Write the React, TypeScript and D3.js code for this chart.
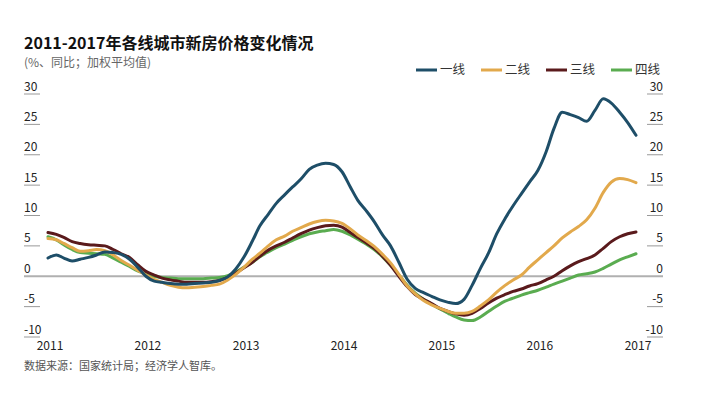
import { useEffect, useRef } from "react";
import { axisLeft, axisRight, curveMonotoneX, line, scaleLinear, scaleTime, select } from "d3";

const years = [2011, 2012, 2013, 2014, 2015, 2016, 2017];
const yTicks = [-10, -5, 0, 5, 10, 15, 20, 25, 30];

// monthly, Jan 2011 .. Jan 2017
const tier1 = [
  3.0, 3.5, 3.0, 2.5, 2.8, 3.1, 3.5, 4.0, 3.9, 3.6, 2.8, 1.5,
  0.0, -0.8, -1.0, -1.2, -1.3, -1.3, -1.2, -1.1, -1.0, -0.7, -0.1, 1.2,
  3.2, 5.8, 8.3, 10.2, 12.0, 13.4, 14.7, 16.0, 17.6, 18.3, 18.6, 18.4,
  17.2, 14.7, 12.5, 10.8, 9.0, 6.8, 5.0, 2.3, -0.5, -2.0, -2.7, -3.3,
  -3.9, -4.3, -4.5, -3.8, -1.5, 1.3, 3.8, 7.0, 9.5, 11.6, 13.6, 15.5,
  17.4, 20.5, 24.3, 27.0, 26.6, 26.1, 25.5, 27.3, 29.2, 28.5, 27.0, 25.3,
  23.2,
];
const tier2 = [
  6.2, 6.0, 5.4, 4.7, 4.1, 4.2, 4.4, 4.2, 3.5, 2.6, 1.8, 1.0,
  0.2, -0.5, -1.0, -1.5, -1.8, -1.9, -1.8, -1.7, -1.5, -1.3, -0.6, 0.3,
  1.5, 2.8, 3.8, 5.0, 6.0, 6.6, 7.4, 8.0, 8.6, 9.0, 9.2, 9.1,
  8.7, 7.8, 6.8, 5.9, 4.9, 3.6, 2.2, 0.3, -1.6, -2.9, -4.0, -4.7,
  -5.3, -5.8, -6.1, -6.1, -5.8, -4.9, -3.9, -2.6, -1.5, -0.6, 0.2, 1.5,
  2.7, 3.9, 5.0, 6.3, 7.3, 8.2, 9.3, 11.2, 13.8, 15.5, 16.1, 15.9,
  15.4,
];
const tier3 = [
  7.2, 6.9, 6.4, 5.7, 5.4, 5.2, 5.1, 5.0, 4.4, 3.7, 3.1, 1.9,
  0.8, 0.2, -0.3, -0.6, -0.8, -1.0, -1.0, -1.0, -0.9, -0.7, -0.2, 0.5,
  1.4, 2.3, 3.3, 4.3, 5.0, 5.6, 6.3, 7.0, 7.6, 8.0, 8.3, 8.4,
  8.1, 7.2, 6.4, 5.5, 4.6, 3.3, 1.8, 0.0, -1.7, -3.0, -3.8, -4.5,
  -5.3, -5.8, -6.2, -6.4, -6.1, -5.3, -4.4, -3.6, -3.0, -2.5, -2.1, -1.6,
  -1.2, -0.6, 0.0, 0.9, 1.7, 2.4, 2.9, 3.5, 4.6, 5.7, 6.5, 7.0,
  7.3,
];
const tier4 = [
  6.5, 6.0, 5.2, 4.4, 3.9, 3.8, 3.7, 3.6, 3.0, 2.3, 1.6, 0.9,
  0.4, 0.0, -0.2, -0.3, -0.4, -0.4, -0.4, -0.4, -0.3, -0.2, 0.1, 0.7,
  1.5, 2.3, 3.2, 4.0, 4.7, 5.3, 5.9, 6.5, 7.0, 7.3, 7.5, 7.7,
  7.4, 6.8, 6.1, 5.3, 4.4, 3.2, 1.8, 0.2, -1.5, -2.8, -3.8, -4.6,
  -5.4, -6.1, -6.7, -7.2, -7.3, -6.7, -5.8, -4.9, -4.1, -3.6, -3.1, -2.7,
  -2.3, -1.8, -1.3, -0.8, -0.3, 0.2, 0.4, 0.7, 1.3, 2.0, 2.7, 3.2,
  3.7,
];

const seriesNames = ["一线", "二线", "三线", "四线"];
const seriesValues = [tier1, tier2, tier3, tier4];
const colors = ["#1e4e68", "#e2a94c", "#5a1a1c", "#5aac50"];

const FONT = "'Noto Sans CJK SC', 'Noto Sans', sans-serif";

export default function App() {
  const ref = useRef<SVGSVGElement>(null);

  useEffect(() => {
    const svg = select(ref.current);
    svg.selectAll("*").remove();

    const x = scaleTime()
      .domain([new Date(2011, 0, 1), new Date(2017, 0, 1)])
      .range([48, 636]);
    const y = scaleLinear().domain([-10, 30]).range([337, 94]);

    // title
    svg.append("text").attr("x", 24).attr("y", 49)
      .attr("font-size", 16).attr("font-weight", "bold").attr("fill", "#111")
      .text("2011-2017年各线城市新房价格变化情况");
    svg.append("text").attr("x", 24).attr("y", 67)
      .attr("font-size", 12).attr("fill", "#666")
      .text("(%、同比；加权平均值)");

    // y axes (left and right)
    const left = svg.append("g").attr("transform", "translate(24,0)")
      .call(axisLeft(y).tickValues(yTicks).tickSize(0).tickFormat((d: any) => String(d)));
    left.select(".domain").remove();
    left.selectAll("text").attr("text-anchor", "start").attr("x", 0).attr("dy", -4);

    const right = svg.append("g").attr("transform", "translate(663,0)")
      .call(axisRight(y).tickValues(yTicks).tickSize(0).tickFormat((d: any) => String(d)));
    right.select(".domain").remove();
    right.selectAll("text").attr("text-anchor", "end").attr("x", 0).attr("dy", -4);

    svg.selectAll(".tick text").attr("font-size", 12).attr("fill", "#222")
      .attr("font-family", FONT);

    // tick underlines
    const tickG = svg.append("g");
    yTicks.filter((t) => t !== 0).forEach((t) => {
      tickG.append("line").attr("x1", 24).attr("x2", 40)
        .attr("y1", y(t)).attr("y2", y(t)).attr("stroke", "#999").attr("stroke-width", 1);
      tickG.append("line").attr("x1", 647).attr("x2", 663)
        .attr("y1", y(t)).attr("y2", y(t)).attr("stroke", "#999").attr("stroke-width", 1);
    });
    tickG.append("line").attr("x1", 24).attr("x2", 663)
      .attr("y1", y(0)).attr("y2", y(0)).attr("stroke", "#b0b0b0").attr("stroke-width", 2);

    // x labels
    svg.append("g").selectAll("text").data(years).join("text")
      .attr("x", (d) => x(new Date(d, 0, 1)) + 2).attr("y", 350)
      .attr("text-anchor", "middle").attr("font-size", 12).attr("fill", "#222")
      .text((d) => String(d));

    // lines
    const gen = line<number>()
      .x((_, i) => x(new Date(2011, i, 1)))
      .y((d) => y(d))
      .curve(curveMonotoneX);
    [3, 2, 1, 0].forEach((k) => {
      svg.append("path").attr("d", gen(seriesValues[k]) ?? "")
        .attr("fill", "none").attr("stroke", colors[k]).attr("stroke-width", 3)
        .attr("stroke-linejoin", "round").attr("stroke-linecap", "round");
    });

    // legend
    const legendX = [416, 481, 546, 611];
    seriesNames.forEach((name, k) => {
      svg.append("line").attr("x1", legendX[k]).attr("x2", legendX[k] + 21)
        .attr("y1", 70).attr("y2", 70).attr("stroke", colors[k]).attr("stroke-width", 3);
      svg.append("text").attr("x", legendX[k] + 24).attr("y", 74)
        .attr("font-size", 12.5).attr("fill", "#333").text(name);
    });

    // source
    svg.append("text").attr("x", 24).attr("y", 370)
      .attr("font-size", 11).attr("fill", "#555")
      .text("数据来源：国家统计局；经济学人智库。");
  }, []);

  return (
    <svg
      ref={ref}
      width={720}
      height={405}
      style={{ position: "absolute", left: 0, top: 0, background: "#fff", fontFamily: FONT }}
    />
  );
}
